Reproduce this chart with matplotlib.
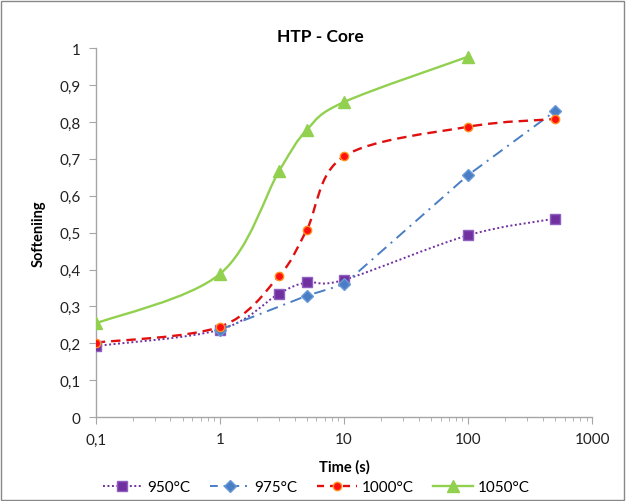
import numpy as np
import matplotlib.pyplot as plt
from matplotlib.path import Path
from matplotlib.patches import PathPatch, Rectangle
from matplotlib.lines import Line2D
from matplotlib.ticker import FixedLocator, LogLocator, NullFormatter

plt.rcParams['font.family'] = ['Lato', 'DejaVu Sans']

t_950 = [0.1, 1, 3, 5, 10, 100, 500]
s_950 = [0.193, 0.237, 0.335, 0.365, 0.372, 0.493, 0.538]

t_975 = [1, 5, 10, 100, 500]
s_975 = [0.237, 0.329, 0.360, 0.656, 0.829]

t_1000 = [0.1, 1, 3, 5, 10, 100, 500]
s_1000 = [0.202, 0.245, 0.383, 0.507, 0.707, 0.787, 0.808]

t_1050 = [0.1, 1, 3, 5, 10, 100]
s_1050 = [0.254, 0.388, 0.667, 0.778, 0.854, 0.977]

x_ticks = [0.1, 1, 10, 100, 1000]
x_labels = ['0,1', '1', '10', '100', '1000']
y_ticks = [0, 0.1, 0.2, 0.3, 0.4, 0.5, 0.6, 0.7, 0.8, 0.9, 1.0]
y_labels = ['0', '0,1', '0,2', '0,3', '0,4', '0,5', '0,6', '0,7', '0,8', '0,9', '1']


def smooth_path(xs, ys):
    # Excel-style smoothed line: cubic bezier, control points from neighbours (in log-x space)
    lx = np.log10(xs)
    ys = np.asarray(ys, float)
    n = len(lx)
    verts = [(xs[0], ys[0])]
    codes = [Path.MOVETO]
    for i in range(n - 1):
        p0 = i - 1 if i > 0 else i
        p3 = i + 2 if i + 2 < n else i + 1
        c1x = lx[i] + (lx[i + 1] - lx[p0]) / 6
        c1y = ys[i] + (ys[i + 1] - ys[p0]) / 6
        c2x = lx[i + 1] - (lx[p3] - lx[i]) / 6
        c2y = ys[i + 1] - (ys[p3] - ys[i]) / 6
        verts += [(10 ** c1x, c1y), (10 ** c2x, c2y), (xs[i + 1], ys[i + 1])]
        codes += [Path.CURVE4] * 3
    return Path(verts, codes)


fig = plt.figure(figsize=(6.26, 5.02), dpi=100)
ax = fig.add_axes([0.153, 0.167, 0.793, 0.735])
ax.set_xscale('log')
ax.set_xlim(0.1, 1000)
ax.set_ylim(0, 1)

c950 = '#7030A0'
c975 = '#4A7EC4'
c1000 = '#E01010'
c1050 = '#92D050'

ax.add_patch(PathPatch(smooth_path(t_950, s_950), fill=False, ec=c950, lw=1.4,
                       ls=(0, (1, 1.3)), zorder=2))
ax.plot(t_975, s_975, color=c975, lw=1.4, ls=(0, (6, 3, 1, 3)), zorder=2)
ax.add_patch(PathPatch(smooth_path(t_1000, s_1000), fill=False, ec=c1000, lw=1.7,
                       ls=(0, (4, 2.5)), zorder=2))
ax.add_patch(PathPatch(smooth_path(t_1050, s_1050), fill=False, ec=c1050, lw=1.7,
                       zorder=2))

ax.plot(t_950, s_950, ls='none', marker='s', ms=7.5, mfc=c950, mec='#9060C0', zorder=3)
ax.plot(t_975, s_975, ls='none', marker='D', ms=6.5, mfc=c975, mec='#6A9AD8', zorder=3)
ax.plot(t_1000, s_1000, ls='none', marker='o', ms=6, mfc='#FF1010', mec='#FF9020', zorder=3)
ax.plot(t_1050, s_1050, ls='none', marker='^', ms=8.5, mfc=c1050, mec=c1050, zorder=3)

for s in ['top', 'right']:
    ax.spines[s].set_visible(False)
for s in ['left', 'bottom']:
    ax.spines[s].set_color('#A6A6A6')
    ax.spines[s].set_linewidth(1)

ax.xaxis.set_major_locator(FixedLocator(x_ticks))
ax.set_xticklabels(x_labels)
ax.xaxis.set_minor_locator(LogLocator(base=10, subs=np.arange(2, 10)))
ax.xaxis.set_minor_formatter(NullFormatter())
ax.set_yticks(y_ticks)
ax.set_yticklabels(y_labels)
ax.tick_params(axis='both', which='major', direction='out', length=5, color='#A6A6A6',
               labelsize=11, labelcolor='#222222', pad=6)
ax.tick_params(axis='x', which='minor', direction='out', length=3, color='#A6A6A6')

ax.set_xlabel('Time (s)', fontsize=10.5, fontweight='bold', labelpad=9)
ax.set_ylabel('Softeniing', fontsize=10.5, fontweight='bold', labelpad=10)
fig.text(0.512, 0.927, 'HTP - Core', ha='center', va='center', fontsize=12.5, fontweight='bold')

handles = [
    Line2D([], [], color=c950, lw=1.4, ls=(0, (1, 1.3)), marker='s', ms=7.5, mfc=c950, mec='#9060C0'),
    Line2D([], [], color=c975, lw=1.4, ls=(0, (4, 3, 1, 3)), marker='D', ms=6.5, mfc=c975, mec='#6A9AD8'),
    Line2D([], [], color=c1000, lw=1.7, ls=(0, (3, 2.5)), marker='o', ms=6, mfc='#FF1010', mec='#FF9020'),
    Line2D([], [], color=c1050, lw=1.7, marker='^', ms=8.5, mfc=c1050, mec=c1050),
]
fig.legend(handles, ['950°C', '975°C', '1000°C', '1050°C'], loc='center',
           bbox_to_anchor=(0.505, 0.028), ncol=4, frameon=False, fontsize=11,
           handlelength=2.6, columnspacing=1.3, handletextpad=0.3)

fig.add_artist(Rectangle((0.002, 0.002), 0.995, 0.995, transform=fig.transFigure,
                         fill=False, ec='#888888', lw=1))

plt.savefig('out.png', dpi=100)
